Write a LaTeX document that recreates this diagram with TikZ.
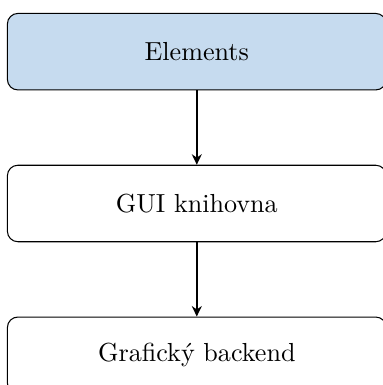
\documentclass[tikz,border=0pt]{standalone}
\usepackage{tikz}
\usetikzlibrary{arrows.meta,positioning}
\definecolor{layerblue}{RGB}{198,219,239}
\begin{document}
\begin{tikzpicture}[node distance=1cm, box/.style={draw,rounded corners,align=center,minimum width=5.1cm,minimum height=1.03cm}, >={Stealth[length=4pt,width=3.8pt]}]
\useasboundingbox (-75.4pt,19.8pt) rectangle (71pt,-127.7pt);
\node[box, fill=layerblue] (elem) {Elements};
\node[box, below=of elem] (gui) {GUI knihovna};
\draw[->, thick] (elem) -- (gui);
\node[box, below=of gui] (back) {Grafický backend};
\draw[->, thick] (gui) -- (back);
\end{tikzpicture}
\end{document}
